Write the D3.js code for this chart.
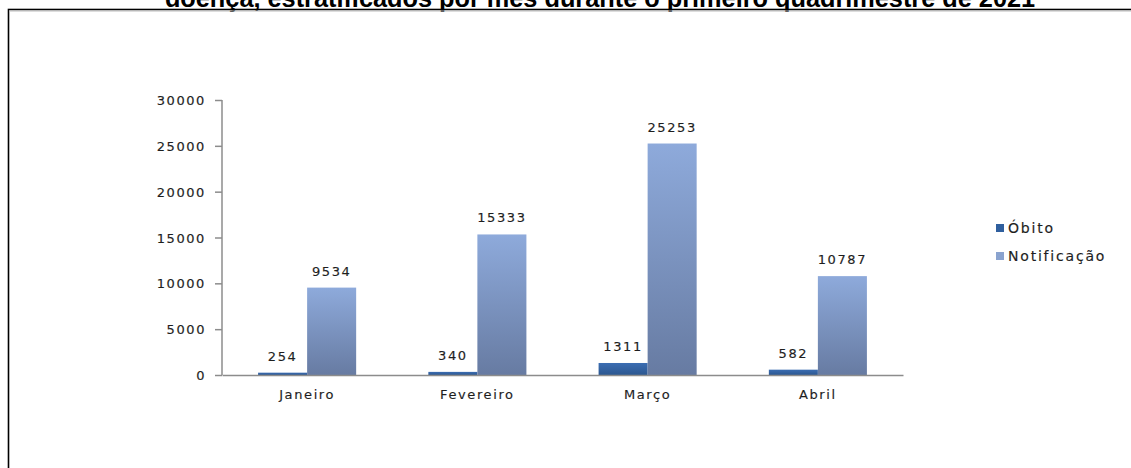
<!DOCTYPE html>
<html>
<head>
<meta charset="utf-8">
<script src="https://cdn.jsdelivr.net/npm/d3@7"></script>
<style>
  body { margin: 0; background: #fff; }
  .axis-text { font-family: "DejaVu Sans", sans-serif; font-size: 13px; letter-spacing: 1.6px; fill: #1e1e1e; stroke: #1e1e1e; stroke-width: 0.15px; }
</style>
</head>
<body>
<div id="chart"></div>
<script>
// dados
var meses = ["Janeiro", "Fevereiro", "Março", "Abril"];
var obitos = [254, 340, 1311, 582];
var notificacoes = [9534, 15333, 25253, 10787];
var series = ["Óbito", "Notificação"];
var yTicks = [0, 5000, 10000, 15000, 20000, 25000, 30000];
var titulo = "doença, estratificados por mês durante o primeiro quadrimestre de 2021";

var svgWidth = 1131;
var svgHeight = 468;

var margin = { top: 100, right: 228, bottom: 93, left: 222 };
var chartWidth = svgWidth - margin.left - margin.right;
var chartHeight = svgHeight - margin.top - margin.bottom;

var svg = d3.select("#chart")
    .append("svg")
    .attr("width", svgWidth)
    .attr("height", svgHeight);

// gradientes das barras
var defs = svg.append("defs");
var cores = [["#3b6db2", "#2c5790"], ["#8eaadb", "#677ba2"]];
cores.forEach(function (c, i) {
    var g = defs.append("linearGradient")
        .attr("id", "grad" + i)
        .attr("x1", 0).attr("y1", 0).attr("x2", 0).attr("y2", 1);
    g.append("stop").attr("offset", "0%").attr("stop-color", c[0]);
    g.append("stop").attr("offset", "100%").attr("stop-color", c[1]);
});

// moldura e título cortado
svg.append("text")
    .attr("x", 600)
    .attr("y", 7)
    .attr("text-anchor", "middle")
    .style("font-family", "Liberation Sans, Arial, sans-serif")
    .style("font-weight", "bold")
    .style("font-size", "25.3px")
    .text(titulo);

svg.append("rect")
    .attr("x", 8.5).attr("y", 9.5)
    .attr("width", 1200).attr("height", 600)
    .attr("fill", "none")
    .attr("stroke", "#000")
    .attr("stroke-width", 1.6);
svg.append("line")
    .attr("x1", 9).attr("x2", 1131).attr("y1", 11).attr("y2", 11)
    .attr("stroke", "#bbb").attr("stroke-width", 1);

var chartGroup = svg.append("g")
    .attr("transform", `translate(${margin.left}, ${margin.top})`);

var x0 = d3.scaleBand().domain(meses).range([0, chartWidth]).paddingInner(0).paddingOuter(0);
var x1 = d3.scaleBand().domain(series).range([x0.bandwidth() * 0.212, x0.bandwidth() * 0.788]);
var y = d3.scaleLinear().domain([0, 30000]).range([chartHeight, 0]);

var dados = meses.map(function (m, i) {
    return { mes: m, valores: [obitos[i], notificacoes[i]] };
});

// barras
var grupos = chartGroup.selectAll(".mes")
    .data(dados)
    .enter()
    .append("g")
    .attr("transform", d => `translate(${x0(d.mes)}, 0)`);

grupos.selectAll("rect")
    .data(d => d.valores.map((v, i) => ({ serie: series[i], v: v, i: i })))
    .enter()
    .append("rect")
    .attr("x", d => x1(d.serie))
    .attr("y", d => y(d.v))
    .attr("width", x1.bandwidth())
    .attr("height", d => chartHeight - y(d.v))
    .attr("fill", d => `url(#grad${d.i})`);

grupos.selectAll(".valor")
    .data(d => d.valores.map((v, i) => ({ serie: series[i], v: v })))
    .enter()
    .append("text")
    .attr("class", "axis-text")
    .attr("x", d => x1(d.serie) + x1.bandwidth() / 2)
    .attr("y", d => y(d.v) - 12)
    .attr("text-anchor", "middle")
    .text(d => d.v);

// eixos
var yAxis = d3.axisLeft(y).tickValues(yTicks).tickSize(7).tickPadding(9).tickFormat(d3.format("d"));
var yG = chartGroup.append("g").call(yAxis);
yG.select(".domain").attr("stroke", "#8c8c8c").attr("stroke-width", 1.5).attr("d", `M0,0V${chartHeight}`);
yG.selectAll(".tick line").attr("stroke", "#8c8c8c").attr("stroke-width", 1.5);
yG.selectAll(".tick text").attr("class", "axis-text").attr("dy", "0.35em");

var xAxis = d3.axisBottom(x0).tickSize(0).tickPadding(15);
var xG = chartGroup.append("g")
    .attr("transform", `translate(0, ${chartHeight})`)
    .call(xAxis);
xG.select(".domain").attr("stroke", "#8c8c8c").attr("stroke-width", 1.5);
xG.selectAll(".tick text").attr("class", "axis-text");

// legenda
var legenda = svg.append("g").attr("transform", "translate(996, 228)");
series.forEach(function (s, i) {
    var item = legenda.append("g").attr("transform", `translate(0, ${i * 28})`);
    item.append("rect")
        .attr("x", 0).attr("y", -4)
        .attr("width", 8).attr("height", 8)
        .attr("fill", i === 0 ? "#2f5f9e" : "#8aa3cf");
    item.append("text")
        .attr("class", "axis-text")
        .attr("x", 12)
        .attr("dy", "0.35em")
        .style("font-size", "14px")
        .style("letter-spacing", "1.8px")
        .text(s);
});
</script>
</body>
</html>
